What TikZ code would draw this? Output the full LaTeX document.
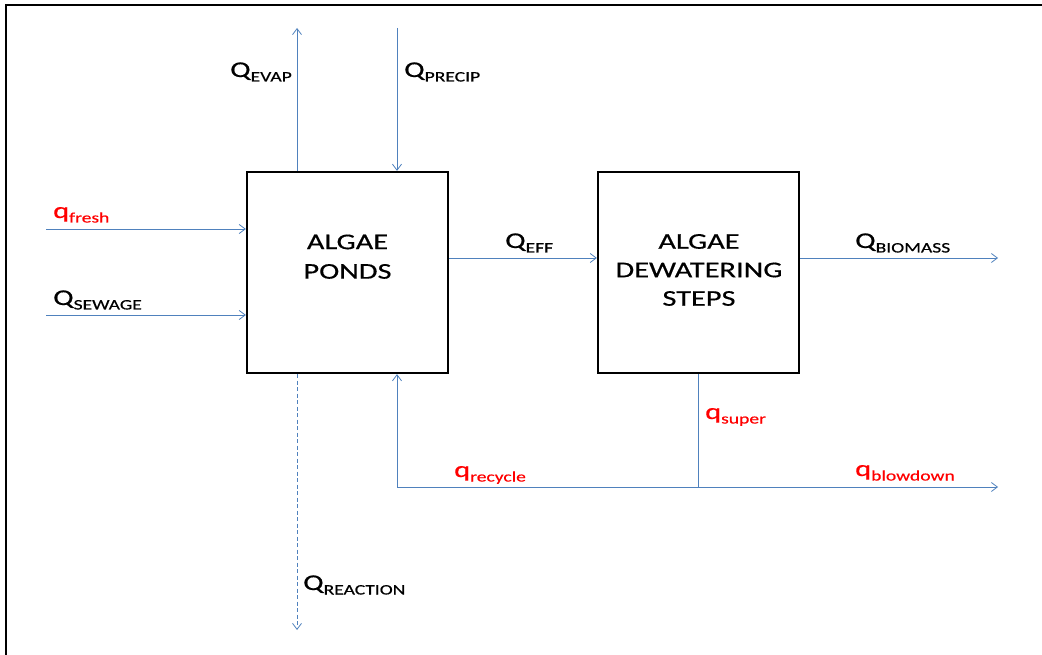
\documentclass[tikz,border=0pt]{standalone}
\usepackage{fontspec}
\setmainfont{Carlito}[FakeStretch=1.35,FakeBold=0.5]
\usetikzlibrary{arrows.meta}
\definecolor{flowblue}{RGB}{79,129,189}
\definecolor{flowred}{RGB}{255,0,0}
\newcommand{\flowlbl}[2]{#1{\fontsize{14.5}{14.5}\selectfont\raisebox{-4.5pt}{#2}}}
\tikzset{
  flow/.style={draw=flowblue, line width=0.9pt, -{Straight Barb[length=6pt,width=9pt,line width=0.8pt]}},
  flowplain/.style={draw=flowblue, line width=0.9pt},
  unitbox/.style={draw=black, line width=2.3pt, minimum width=201pt, minimum height=201pt, inner sep=0pt},
  boxtext/.style={font=\fontsize{22.5}{29.5}\selectfont, align=center, inner sep=0pt},
  lbl/.style={font=\fontsize{22.5}{27}\selectfont, anchor=base west, inner sep=0pt},
  redlbl/.style={lbl, text=flowred},
}
\begin{document}
\begin{tikzpicture}[x=1pt,y=-1pt]
\useasboundingbox (0,0) rectangle (1042,655);
% frame
\draw[line width=2.2pt, black] (6,655) -- (6,5) -- (1042,5);
% boxes
\node[unitbox] (ponds) at (347.5,272.5) {};
\node[unitbox] (dewater) at (698.5,272.5) {};
\node[boxtext] (pondsText) at (347.5,256.7) {ALGAE\\PONDS};
\node[boxtext, font=\fontsize{22.5}{28.5}\selectfont] (dewaterText) at (699,270) {ALGAE\\DEWATERING\\STEPS};
% free ends
\coordinate (evapTop) at (297,28);
\coordinate (precipTop) at (397,28);
\coordinate (freshL) at (46,229);
\coordinate (sewageL) at (46,315);
\coordinate (biomassR) at (998,258);
\coordinate (junction) at (698,487);
\coordinate (blowR) at (998,487);
\coordinate (reactB) at (297,630);
% connectors
\draw[flow] (evapTop |- ponds.north) -- (evapTop);
\draw[flow] (precipTop) -- (precipTop |- ponds.north);
\draw[flow] (freshL) -- (freshL -| ponds.west);
\draw[flow] (sewageL) -- (sewageL -| ponds.west);
\draw[flow] (ponds.east |- biomassR) -- (dewater.west |- biomassR);
\draw[flow] (dewater.east |- biomassR) -- (biomassR);
\draw[flowplain] (junction |- dewater.south) -- (junction);
\draw[flow] (junction) -- (precipTop |- junction) -- (precipTop |- ponds.south);
\draw[flow] (junction) -- (blowR);
\draw[flow, dash pattern=on 4pt off 2.5pt] (reactB |- ponds.south) -- (reactB);
% labels
\node[lbl] (lEvap) at (230,77) {\flowlbl{Q}{EVAP}};
\node[lbl] (lPrecip) at (404,77) {\flowlbl{Q}{PRECIP}};
\node[redlbl] (lFresh) at (53,218) {\flowlbl{q}{fresh}};
\node[lbl] (lSewage) at (53,305) {\flowlbl{Q}{SEWAGE}};
\node[lbl] (lEff) at (505,248) {\flowlbl{Q}{EFF}};
\node[lbl] (lBiomass) at (855,248) {\flowlbl{Q}{BIOMASS}};
\node[redlbl] (lSuper) at (705,419) {\flowlbl{q}{super}};
\node[redlbl] (lRecycle) at (454,477) {\flowlbl{q}{recycle}};
\node[redlbl] (lBlow) at (855,476) {\flowlbl{q}{blowdown}};
\node[lbl] (lReact) at (303,590) {\flowlbl{Q}{REACTION}};
\end{tikzpicture}
\end{document}
